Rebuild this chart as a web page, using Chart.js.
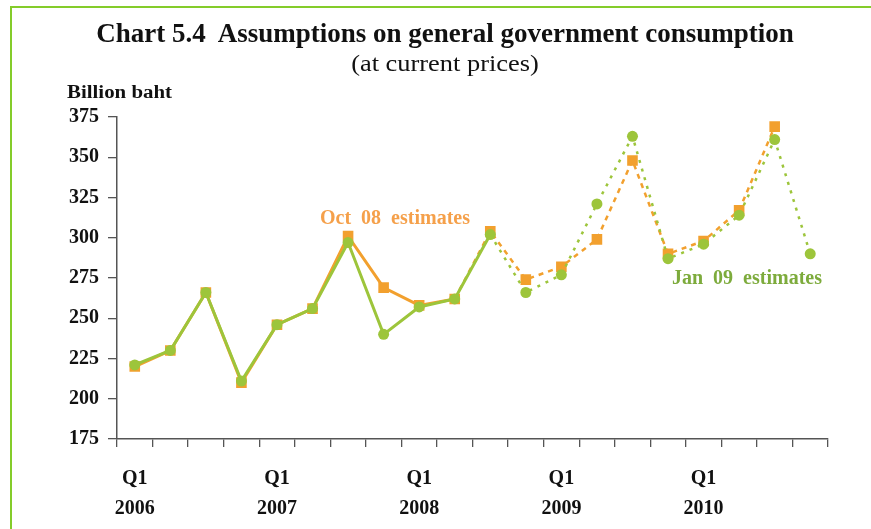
<!DOCTYPE html>
<html>
<head>
<meta charset="utf-8">
<script src="https://cdn.jsdelivr.net/npm/chart.js@4"></script>
<style>
  html, body { margin: 0; padding: 0; background: #fff; }
  #wrap { position: relative; width: 871px; height: 529px; overflow: hidden; }
  #frame { position: absolute; left: 10px; top: 6px; width: 880px; height: 560px;
           border-left: 2px solid #84cc2a; border-top: 2px solid #84cc2a; }
  canvas { position: absolute; left: 0; top: 0; }
  .txt { position: absolute; font-family: "Liberation Serif", "Times New Roman", serif; white-space: nowrap; }
  #title { left: 0; width: 890px; top: 18px; text-align: center; font-weight: bold; font-size: 27px; color: #111; }
  #subtitle { left: 0; width: 890px; top: 50px; text-align: center; font-size: 24px; color: #111;
              transform: scaleX(1.1); }
  #unit { left: 67px; top: 82px; font-weight: bold; font-size: 18px; color: #111;
          transform: scaleX(1.16); transform-origin: left center; }
  #oct { left: 320px; top: 206px; font-weight: bold; font-size: 20px; color: #f5a04a; }
  #jan { left: 672px; top: 266px; font-weight: bold; font-size: 20px; color: #7dab3c; }
</style>
</head>
<body>
<div id="wrap">
  <div id="frame"></div>
  <canvas id="chart" width="871" height="529"></canvas>
  <div class="txt" id="title">Chart 5.4&nbsp; Assumptions on general government consumption</div>
  <div class="txt" id="subtitle">(at current prices)</div>
  <div class="txt" id="unit">Billion baht</div>
  <div class="txt" id="oct">Oct&nbsp; 08&nbsp; estimates</div>
  <div class="txt" id="jan">Jan&nbsp; 09&nbsp; estimates</div>
</div>
<script>
// === Data ===
const years = ['2006', '2007', '2008', '2009', '2010'];
const quarters = ['Q1', 'Q2', 'Q3', 'Q4'];
const octEstimates = [220, 230, 266, 210, 246, 256, 301, 269, 258, 262, 304, 274, 282, 299, 348, 290, 298, 317, 369, null];
const janEstimates = [221, 230, 266, 211, 246, 256, 297, 240, 257, 262, 302, 266, 277, 321, 363, 287, 296, 314, 361, 290];
const yTicks = [175, 200, 225, 250, 275, 300, 325, 350, 375];

// only Q1 gets a label, with the year under it
const labels = [];
years.forEach(y => quarters.forEach(q => labels.push(q === 'Q1' ? ['Q1', y] : '')));

const ORANGE = '#f2a02e';
const GREEN = '#9dc53b';
const serif = '"Liberation Serif", "Times New Roman", serif';

const ctx = document.getElementById('chart').getContext('2d');
new Chart(ctx, {
    type: 'line',
    data: {
        labels: labels,
        datasets: [
            {
                // drawn on top
                label: 'Jan 09 estimates',
                data: janEstimates,
                borderColor: GREEN,
                backgroundColor: GREEN,
                borderWidth: 3,
                pointStyle: 'circle',
                pointRadius: 5.5,
                pointBorderWidth: 0,
                tension: 0,
                segment: {
                    borderDash: c => c.p0DataIndex >= 10 ? [3, 6] : undefined,
                    borderWidth: c => c.p0DataIndex >= 10 ? 2.5 : 3
                }
            },
            {
                label: 'Oct 08 estimates',
                data: octEstimates,
                borderColor: ORANGE,
                backgroundColor: ORANGE,
                borderWidth: 3,
                pointStyle: 'rect',
                pointRadius: 7.5,
                pointBorderWidth: 0,
                tension: 0,
                segment: {
                    borderDash: c => c.p0DataIndex >= 9 ? [5, 5] : undefined,
                    borderWidth: c => c.p0DataIndex >= 9 ? 2.5 : 3
                }
            }
        ]
    },
    options: {
        responsive: false,
        animation: false,
        layout: { padding: { top: 117, right: 43, bottom: 0, left: 0 } },
        plugins: {
            legend: { display: false },
            tooltip: { enabled: false }
        },
        scales: {
            x: {
                offset: true,
                afterFit: s => { s.height = 90; },
                grid: { offset: true, drawOnChartArea: false, drawTicks: true, tickLength: 8, color: '#555', lineWidth: 1.3 },
                border: { color: '#555', width: 1.5 },
                ticks: {
                    autoSkip: false, maxRotation: 0, padding: 17,
                    color: '#111',
                    font: { family: serif, size: 20, weight: 'bold', lineHeight: 30 / 20 }
                }
            },
            y: {
                min: 175, max: 375,
                afterFit: s => { s.width = 117; },
                afterBuildTicks: s => { s.ticks = yTicks.map(v => ({ value: v })); },
                grid: { drawOnChartArea: false, drawTicks: true, tickLength: 9, color: '#555', lineWidth: 1.3 },
                border: { color: '#555', width: 1.5 },
                ticks: {
                    padding: 9,
                    color: '#111',
                    font: { family: serif, size: 20, weight: 'bold' }
                }
            }
        }
    }
});
</script>
</body>
</html>
